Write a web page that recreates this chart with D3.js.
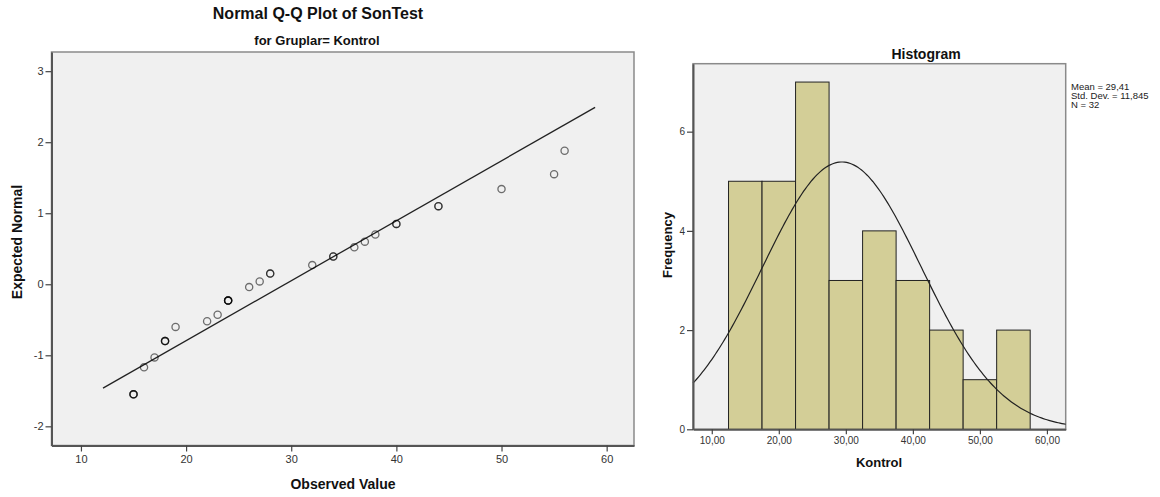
<!DOCTYPE html>
<html>
<head>
<meta charset="utf-8">
<script src="https://cdn.jsdelivr.net/npm/d3@7/dist/d3.min.js"></script>
<style>
  html, body { margin: 0; padding: 0; background: #fff; }
  svg { display: block; font-family: "Liberation Sans", Arial, sans-serif; }
</style>
</head>
<body>
<svg id="chart" width="1160" height="497"></svg>
<script>
// Observed values (unique) with their expected normal scores and tie counts
const observed = [15, 16, 17, 18, 19, 22, 23, 24, 26, 27, 28, 32, 34, 36, 37, 38, 40, 44, 50, 55, 56];
const expectedNormal = [-1.55, -1.17, -1.03, -0.80, -0.60, -0.52, -0.43, -0.23, -0.04, 0.04, 0.15, 0.27, 0.39, 0.52, 0.60, 0.70, 0.85, 1.10, 1.34, 1.55, 1.88];
const tieCounts = [3, 1, 1, 3, 1, 1, 1, 4, 1, 1, 2, 1, 2, 1, 1, 1, 2, 2, 1, 1, 1];
const refLineRange = [12.1, 58.9];
const qqXTicks = [10, 20, 30, 40, 50, 60];
const qqYTicks = [-2, -1, 0, 1, 2, 3];

// Histogram of Kontrol
const binCenters = [15, 20, 25, 30, 35, 40, 45, 50, 55];
const binCounts = [5, 5, 7, 3, 4, 3, 2, 1, 2];
const binWidth = 5;
const histXTicks = [10, 20, 30, 40, 50, 60];
const histYTicks = [0, 2, 4, 6];
const statMean = 29.41;
const statSD = 11.845;
const statN = 32;
const statLines = ["Mean = 29,41", "Std. Dev. = 11,845", "N = 32"];

const svg = d3.select("#chart");
const plainInt = d => (d < 0 ? "-" + Math.abs(d) : String(d));

function frame(g, x0, x1, y0, y1) {
  g.append("rect").attr("x", x0).attr("y", y0).attr("width", x1 - x0).attr("height", y1 - y0)
    .attr("fill", "#f0f0f0").attr("stroke", "#8a8a8a").attr("stroke-width", 1.5);
}

function styleAxes(axes, size) {
  axes.forEach(a => {
    a.select(".domain").attr("stroke", "#555").attr("stroke-width", 2);
    a.selectAll(".tick line").attr("stroke", "#444").attr("stroke-width", 1.2);
    a.selectAll(".tick text").attr("fill", "#333").style("font-size", size)
      .style("font-family", "Liberation Sans, Arial, sans-serif");
  });
}

// ---------- Normal Q-Q plot ----------
{
  const L = 51.5, R = 634, T = 52, B = 445.5;
  const x = d3.scaleLinear().domain([7.2, 62.6]).range([L, R]);
  const y = d3.scaleLinear().domain([-2.27, 3.27]).range([B, T]);
  const g = svg.append("g");
  frame(g, L, R, T, B);

  const xAxis = g.append("g").attr("transform", `translate(0,${B})`)
    .call(d3.axisBottom(x).tickValues(qqXTicks).tickFormat(plainInt).tickSize(6).tickSizeOuter(0).tickPadding(4));
  const yAxis = g.append("g").attr("transform", `translate(${L},0)`)
    .call(d3.axisLeft(y).tickValues(qqYTicks).tickFormat(plainInt).tickSize(6).tickSizeOuter(0).tickPadding(2));
  styleAxes([xAxis, yAxis], "11px");

  // reference line
  g.append("line")
    .attr("x1", x(refLineRange[0])).attr("y1", y((refLineRange[0] - statMean) / statSD))
    .attr("x2", x(refLineRange[1])).attr("y2", y((refLineRange[1] - statMean) / statSD))
    .attr("stroke", "#222").attr("stroke-width", 1.3);

  // points: one circle per observation so ties draw darker
  const pts = [];
  observed.forEach((v, i) => { for (let k = 0; k < tieCounts[i]; k++) pts.push([v, expectedNormal[i]]); });
  g.selectAll("circle.pt").data(pts).join("circle").attr("class", "pt")
    .attr("cx", d => x(d[0])).attr("cy", d => y(d[1])).attr("r", 3.6)
    .attr("fill", "none").attr("stroke", "#000").attr("stroke-opacity", 0.55).attr("stroke-width", 1.3);

  svg.append("text").attr("x", 318).attr("y", 19).attr("text-anchor", "middle")
    .style("font-size", "16px").style("font-weight", "bold").attr("fill", "#111")
    .text("Normal Q-Q Plot of SonTest");
  svg.append("text").attr("x", 317).attr("y", 45).attr("text-anchor", "middle")
    .style("font-size", "13px").style("font-weight", "bold").attr("fill", "#111")
    .text("for Gruplar= Kontrol");
  svg.append("text").attr("x", 343).attr("y", 489).attr("text-anchor", "middle")
    .style("font-size", "14px").style("font-weight", "bold").attr("fill", "#111")
    .text("Observed Value");
  svg.append("text").attr("transform", "translate(22,242) rotate(-90)").attr("text-anchor", "middle")
    .style("font-size", "14px").style("font-weight", "bold").attr("fill", "#111")
    .text("Expected Normal");
}

// ---------- Histogram ----------
{
  const L = 693, R = 1065.7, T = 63.7, B = 429.3;
  const x = d3.scaleLinear().domain([7.2, 62.8]).range([L, R]);
  const y = d3.scaleLinear().domain([0, 7.37]).range([B, T]);
  const g = svg.append("g");
  frame(g, L, R, T, B);

  g.selectAll("rect.bar").data(binCenters).join("rect").attr("class", "bar")
    .attr("x", d => x(d - binWidth / 2)).attr("width", d => x(d + binWidth / 2) - x(d - binWidth / 2))
    .attr("y", (d, i) => y(binCounts[i])).attr("height", (d, i) => y(0) - y(binCounts[i]))
    .attr("fill", "#d3ce97").attr("stroke", "#222").attr("stroke-width", 1);

  // normal curve scaled to counts
  const dens = xv => statN * binWidth / (statSD * Math.sqrt(2 * Math.PI)) *
    Math.exp(-0.5 * Math.pow((xv - statMean) / statSD, 2));
  const xs = d3.range(200).map(i => x.domain()[0] + (x.domain()[1] - x.domain()[0]) * i / 199);
  g.append("path").datum(xs)
    .attr("d", d3.line().x(d => x(d)).y(d => y(dens(d))))
    .attr("fill", "none").attr("stroke", "#222").attr("stroke-width", 1.2);

  const fmt = v => d3.format(".2f")(v).replace(".", ",");
  const xAxis = g.append("g").attr("transform", `translate(0,${B})`)
    .call(d3.axisBottom(x).tickValues(histXTicks).tickFormat(fmt).tickSize(5).tickSizeOuter(0).tickPadding(3));
  const yAxis = g.append("g").attr("transform", `translate(${L},0)`)
    .call(d3.axisLeft(y).tickValues(histYTicks).tickFormat(plainInt).tickSize(6).tickSizeOuter(0).tickPadding(2));
  styleAxes([xAxis, yAxis], "10px");

  svg.append("text").attr("x", 926).attr("y", 59).attr("text-anchor", "middle")
    .style("font-size", "14px").style("font-weight", "bold").attr("fill", "#111")
    .text("Histogram");
  svg.append("text").attr("x", 879).attr("y", 467).attr("text-anchor", "middle")
    .style("font-size", "13px").style("font-weight", "bold").attr("fill", "#111")
    .text("Kontrol");
  svg.append("text").attr("transform", "translate(672,245) rotate(-90)").attr("text-anchor", "middle")
    .style("font-size", "13px").style("font-weight", "bold").attr("fill", "#111")
    .text("Frequency");

  svg.append("g").selectAll("text").data(statLines).join("text")
    .attr("x", 1071).attr("y", (d, i) => 90 + i * 8.8)
    .style("font-size", "9.5px").attr("fill", "#222")
    .text(d => d);
}
</script>
</body>
</html>
